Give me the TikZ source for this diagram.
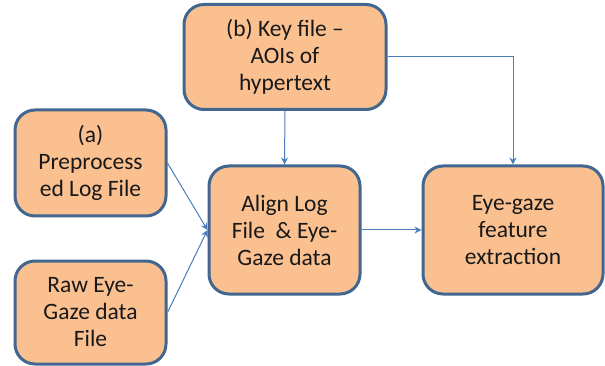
\documentclass[tikz,border=0pt]{standalone}
\usepackage{fontspec}
\setmainfont{Carlito}
\usetikzlibrary{arrows.meta}
\definecolor{boxfill}{HTML}{FAC090}
\definecolor{boxline}{HTML}{41668F}
\definecolor{arrowc}{HTML}{4A7EBB}
\tikzset{
  procbox/.style={draw=boxline, fill=boxfill, line width=3pt, rounded corners=20pt,
    align=center, inner sep=0pt, text=black!90, font=\fontsize{23.5}{27}\selectfont},
  conn/.style={draw=arrowc, line width=1pt, -{Stealth[length=7pt,width=7pt]}}
}
\begin{document}
\begin{tikzpicture}[x=1pt,y=-1pt]
\useasboundingbox (0,0) rectangle (605,366);
\node[procbox, minimum width=202pt, minimum height=105pt] (b) at (285,57) {(b) Key file --\\AOIs of\\hypertext};
\node[procbox, minimum width=151pt, minimum height=106pt] (a) at (90.5,163) {(a)\\Preprocess\\ed Log File};
\node[procbox, minimum width=151pt, minimum height=103pt] (raw) at (90.5,312.5) {Raw Eye-\\Gaze data\\File};
\node[procbox, minimum width=151pt, minimum height=128pt] (align) at (284.5,230) {Align Log\\File\ \ \& Eye-\\Gaze data};
\node[procbox, minimum width=180pt, minimum height=128pt] (eye) at (513,230) {Eye-gaze\\feature\\extraction};
\draw[conn] (a.east) -- (align.west);
\draw[conn] (raw.east) -- (align.west);
\draw[conn] (b.south) -- (align.north);
\draw[conn] (b.east) -| (eye.north);
\draw[conn] (align.east) -- (eye.west);
\end{tikzpicture}
\end{document}
